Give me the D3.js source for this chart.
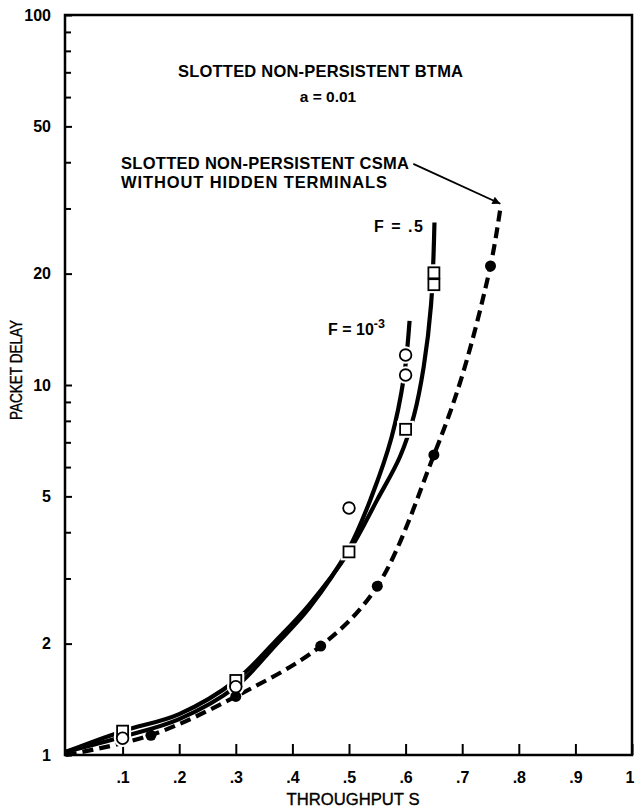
<!DOCTYPE html>
<html>
<head>
<meta charset="utf-8">
<script src="https://cdn.jsdelivr.net/npm/d3@7"></script>
<style>
  html, body { margin: 0; padding: 0; background: #fff; }
  svg { display: block; }
  text { font-family: "Liberation Sans", Arial, Helvetica, sans-serif; fill: #000; }
</style>
</head>
<body>
<svg id="chart" width="635" height="809"></svg>
<script>
// ---------- data ----------
const xTickValues = [0.1, 0.2, 0.3, 0.4, 0.5, 0.6, 0.7, 0.8, 0.9, 1];
const xTickLabels = [".1", ".2", ".3", ".4", ".5", ".6", ".7", ".8", ".9", "1"];
const yTickValues = [1, 2, 5, 10, 20, 50, 100];
const yTickLabels = ["1", "2", "5", "10", "20", "50", "100"];
const yMinorTicks = [3, 4, 6, 7, 8, 9, 30, 40, 60, 70, 80, 90];

// F = .5 curve (solid)
const f05CurveX = [0, 0.1, 0.2, 0.3, 0.37, 0.43, 0.5, 0.55, 0.59, 0.615, 0.632, 0.645, 0.651];
const f05CurveY = [1.02, 1.16, 1.29, 1.59, 2.03, 2.55, 3.55, 4.9, 6.4, 8.3, 11.2, 16.5, 27.5];
// F = 10^-3 curve (solid)
const f3CurveX = [0, 0.1, 0.2, 0.3, 0.37, 0.43, 0.5, 0.54, 0.575, 0.597, 0.607];
const f3CurveY = [1.02, 1.12, 1.25, 1.53, 1.98, 2.5, 3.62, 5.0, 7.2, 10.5, 14.9];
// Slotted non-persistent CSMA (dashed)
const csmaCurveX = [0, 0.149, 0.3, 0.45, 0.55, 0.65, 0.7, 0.75, 0.767];
const csmaCurveY = [1.0, 1.13, 1.44, 1.97, 2.86, 6.47, 10.6, 21, 29.7];

// simulation points
const squareX = [0.1, 0.3, 0.5, 0.6, 0.65, 0.65];
const squareY = [1.16, 1.59, 3.54, 7.59, 18.67, 20.1];
const circleX = [0.1, 0.3, 0.5, 0.6, 0.6];
const circleY = [1.11, 1.53, 4.65, 10.64, 12.05];
const dotX = [0.15, 0.3, 0.45, 0.55, 0.65, 0.75];
const dotY = [1.13, 1.44, 1.97, 2.86, 6.47, 20.97];

// annotation arrow (data coordinates)
const arrowFrom = [0.6136, 39.6];
const arrowTo = [0.7675, 30.9];

// ---------- drawing ----------
const svg = d3.select("#chart");
const x = d3.scaleLinear().domain([0, 1]).range([66, 632]);
const y = d3.scaleLog().domain([1, 100]).range([755, 15]);

const zip = (a, b) => a.map((v, i) => [v, b[i]]);
const line = d3.line().x(d => x(d[0])).y(d => y(d[1])).curve(d3.curveCatmullRom.alpha(0.5));

// frame
svg.append("rect")
  .attr("x", x(0) - 1).attr("y", y(100)).attr("width", x(1) - x(0) + 1).attr("height", y(1) - y(100))
  .attr("fill", "none").attr("stroke", "#000").attr("stroke-width", 2.5);

const tickFont = g => g.selectAll(".tick text")
  .style("font-size", "16px").style("font-weight", "bold")
  .style("font-family", "'Liberation Sans', Arial, sans-serif");

// x axis
const xAxis = d3.axisBottom(x).tickValues(xTickValues).tickSize(-11).tickPadding(17)
  .tickFormat((d, i) => xTickLabels[i]);
const gx = svg.append("g").attr("transform", `translate(0,${y(1)})`).call(xAxis);
gx.select(".domain").remove();
gx.selectAll(".tick line").attr("stroke", "#000").attr("stroke-width", 2);
tickFont(gx);
gx.selectAll(".tick text").filter(d => d === 1).attr("text-anchor", "end").attr("x", 2);

// y axis major
const yAxis = d3.axisLeft(y).tickValues(yTickValues).tickSize(-7).tickPadding(14)
  .tickFormat((d, i) => yTickLabels[i]);
const gy = svg.append("g").attr("transform", `translate(${x(0) - 1},0)`).call(yAxis);
gy.select(".domain").remove();
gy.selectAll(".tick line").attr("stroke", "#000").attr("stroke-width", 2);
tickFont(gy);

// y axis minor
const yMinor = d3.axisLeft(y).tickValues(yMinorTicks).tickSize(-6).tickFormat("");
const gym = svg.append("g").attr("transform", `translate(${x(0) - 1},0)`).call(yMinor);
gym.select(".domain").remove();
gym.selectAll(".tick line").attr("stroke", "#000").attr("stroke-width", 2);

// curves
svg.append("path").datum(zip(csmaCurveX, csmaCurveY)).attr("d", line)
  .attr("fill", "none").attr("stroke", "#000").attr("stroke-width", 4.2)
  .attr("stroke-dasharray", "11,6");
svg.append("path").datum(zip(f05CurveX, f05CurveY)).attr("d", line)
  .attr("fill", "none").attr("stroke", "#000").attr("stroke-width", 4.2);
svg.append("path").datum(zip(f3CurveX, f3CurveY)).attr("d", line)
  .attr("fill", "none").attr("stroke", "#000").attr("stroke-width", 4.2);

// halos (white gaps around open markers)
const sq = 11, cr = 5.8;
svg.append("g").selectAll("rect").data(zip(squareX, squareY)).join("rect")
  .attr("x", d => x(d[0]) - sq / 2 - 3).attr("y", d => y(d[1]) - sq / 2 - 3)
  .attr("width", sq + 6).attr("height", sq + 6).attr("fill", "#fff");
svg.append("g").selectAll("circle").data(zip(circleX, circleY)).join("circle")
  .attr("cx", d => x(d[0])).attr("cy", d => y(d[1])).attr("r", cr + 3).attr("fill", "#fff");

// filled dots
svg.append("g").selectAll("circle").data(zip(dotX, dotY)).join("circle")
  .attr("cx", d => x(d[0])).attr("cy", d => y(d[1])).attr("r", 5.5).attr("fill", "#000");

// open squares
svg.append("g").selectAll("rect").data(zip(squareX, squareY)).join("rect")
  .attr("x", d => x(d[0]) - sq / 2).attr("y", d => y(d[1]) - sq / 2)
  .attr("width", sq).attr("height", sq).attr("fill", "#fff")
  .attr("stroke", "#000").attr("stroke-width", 1.8);
// open circles
svg.append("g").selectAll("circle").data(zip(circleX, circleY)).join("circle")
  .attr("cx", d => x(d[0])).attr("cy", d => y(d[1])).attr("r", cr).attr("fill", "#fff")
  .attr("stroke", "#000").attr("stroke-width", 1.8);

// arrow
const defs = svg.append("defs");
defs.append("marker").attr("id", "arrowhead").attr("viewBox", "0 0 10 10")
  .attr("refX", 10).attr("refY", 5).attr("markerWidth", 14).attr("markerHeight", 8)
  .attr("markerUnits", "userSpaceOnUse").attr("orient", "auto")
  .append("path").attr("d", "M0,0 L10,5 L0,10 Z").attr("fill", "#000");
svg.append("line")
  .attr("x1", x(arrowFrom[0])).attr("y1", y(arrowFrom[1]))
  .attr("x2", x(arrowTo[0])).attr("y2", y(arrowTo[1]))
  .attr("stroke", "#000").attr("stroke-width", 1.8).attr("marker-end", "url(#arrowhead)");

// texts
function txt(t, px, py, opts = {}) {
  const el = svg.append("text").attr("x", px).attr("y", py).text(t)
    .style("font-size", (opts.size || 16.5) + "px")
    .style("font-weight", opts.weight || "bold")
    .attr("text-anchor", opts.anchor || "start");
  if (opts.len) el.attr("textLength", opts.len).attr("lengthAdjust", opts.adjust || "spacing");
  return el;
}
txt("SLOTTED NON-PERSISTENT BTMA", 178, 77, { len: 285 });
txt("a = 0.01", 328, 102, { anchor: "middle", size: 15.5 });
txt("SLOTTED NON-PERSISTENT CSMA", 121, 169, { len: 288 });
txt("WITHOUT HIDDEN TERMINALS", 121, 188, { len: 266 });
txt("F = .5", 374, 232, { len: 49, size: 16 });
const fl = svg.append("text").attr("x", 328).attr("y", 335)
  .style("font-size", "16px").style("font-weight", "bold");
fl.append("tspan").text("F = 10");
fl.append("tspan").attr("dy", -7).style("font-size", "12.5px").text("-3");

// axis titles
svg.append("text").attr("x", 353).attr("y", 805).attr("text-anchor", "middle")
  .style("font-size", "16px").attr("stroke", "#000").attr("stroke-width", 0.35)
  .attr("textLength", 133).attr("lengthAdjust", "spacingAndGlyphs")
  .text("THROUGHPUT  S");
svg.append("text").attr("transform", "translate(21.5,370) rotate(-90)").attr("text-anchor", "middle")
  .style("font-size", "16px").attr("stroke", "#000").attr("stroke-width", 0.35)
  .attr("textLength", 100).attr("lengthAdjust", "spacingAndGlyphs")
  .text("PACKET DELAY");
</script>
</body>
</html>
